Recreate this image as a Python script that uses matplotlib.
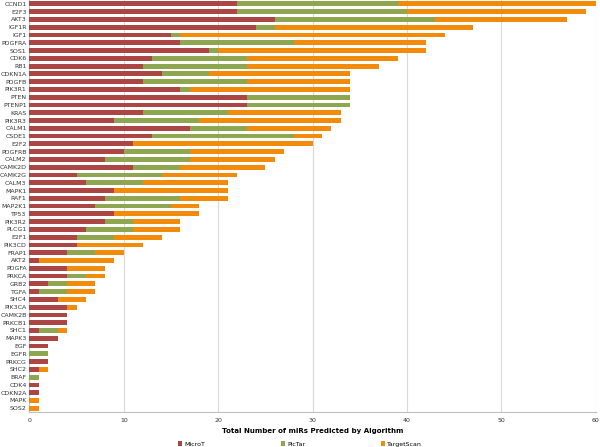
import numpy as np
import matplotlib.pyplot as plt

# Genes, top to bottom
genes = ['CCND1', 'E2F3', 'AKT3', 'IGF1R', 'IGF1', 'PDGFRA', 'SOS1', 'CDK6', 'RB1',
         'CDKN1A', 'PDGFB', 'PIK3R1', 'PTEN', 'PTENP1', 'KRAS', 'PIK3R3', 'CALM1',
         'CSDE1', 'E2F2', 'PDGFRB', 'CALM2', 'CAMK2D', 'CAMK2G', 'CALM3', 'MAPK1',
         'RAF1', 'MAP2K1', 'TP53', 'PIK3R2', 'PLCG1', 'E2F1', 'PIK3CD', 'FRAP1',
         'AKT2', 'PDGFA', 'PRKCA', 'GRB2', 'TGFA', 'SHC4', 'PIK3CA', 'CAMK2B',
         'PRKCB1', 'SHC1', 'MAPK3', 'EGF', 'EGFR', 'PRKCG', 'SHC2', 'BRAF', 'CDK4',
         'CDKN2A', 'MAPK', 'SOS2']

microt = [22, 22, 26, 24, 15, 16, 19, 13, 12, 14, 12, 16, 23, 23, 12, 9, 17,
          13, 11, 10, 8, 11, 5, 6, 9, 8, 7, 9, 8, 6, 5, 5, 4,
          1, 4, 4, 2, 1, 3, 4, 4, 4, 1, 3, 2, 0, 2, 1, 0, 1, 1, 0, 0]
pictar = [17, 18, 17, 2, 1, 12, 1, 10, 11, 5, 11, 1, 11, 11, 9, 9, 6,
          15, 0, 7, 9, 5, 9, 6, 0, 8, 8, 0, 3, 5, 4, 0, 3,
          0, 0, 2, 2, 3, 0, 0, 0, 0, 2, 0, 0, 2, 0, 0, 1, 0, 0, 0, 0]
targetscan = [21, 19, 14, 21, 28, 14, 22, 16, 14, 15, 11, 17, 0, 0, 12, 15, 9,
              3, 19, 10, 9, 9, 8, 9, 12, 5, 3, 9, 5, 5, 5, 7, 3,
              8, 4, 2, 3, 3, 3, 1, 0, 0, 1, 0, 0, 0, 0, 1, 0, 0, 0, 1, 1]

colors = ['#AB4644', '#8DA64F', '#F28A0A']
labels = ['MicroT', 'PicTar', 'TargetScan']

y = np.arange(len(genes))
m = np.array(microt)
p = np.array(pictar)
t = np.array(targetscan)

fig = plt.figure(figsize=(6, 4.47), dpi=100)
ax = fig.add_axes([0.049, 0.078, 0.944, 0.922])

h = 0.62
ax.barh(y, m, height=h, color=colors[0], label=labels[0], zorder=3)
ax.barh(y, p, left=m, height=h, color=colors[1], label=labels[1], zorder=3)
ax.barh(y, t, left=m + p, height=h, color=colors[2], label=labels[2], zorder=3)

ax.set_ylim(len(genes) - 0.5, -0.5)
ax.set_xlim(0, 60)
ax.set_xticks(range(0, 61, 10))
ax.set_yticks(y)
ax.set_yticklabels(genes)
ax.tick_params(axis='both', labelsize=4.5, length=0, pad=2, colors='#333333')
ax.tick_params(axis='x', pad=4)
ax.xaxis.grid(True, color='#D9D9D9', linewidth=0.8, zorder=0)
for s in ['top', 'right']:
    ax.spines[s].set_visible(False)
for s in ['left', 'bottom']:
    ax.spines[s].set_color('#BFBFBF')
    ax.spines[s].set_linewidth(0.8)

ax.set_xlabel('Total Number of miRs Predicted by Algorithm', fontsize=5,
              fontweight='bold', labelpad=4)

fig.legend(loc='lower center', bbox_to_anchor=(0.5, -0.012), ncol=3, frameon=False,
           fontsize=4.5, handlelength=0.7, handleheight=0.7, columnspacing=12,
           handletextpad=0.4)

fig.savefig('out.png', dpi=100)
